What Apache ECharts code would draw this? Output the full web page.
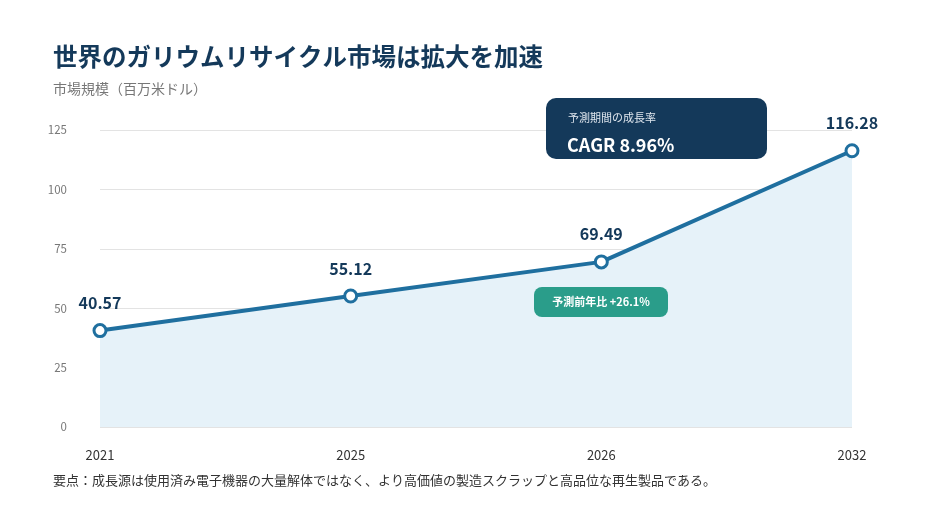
<!DOCTYPE html><html><head><meta charset="utf-8"><script src="https://cdn.jsdelivr.net/npm/echarts@6/dist/echarts.min.js"></script>
<style>body{margin:0;background:#fff}#c{width:940px;height:529px}</style></head><body><div id="c"></div><script>
const years=["2021","2025","2026","2032"];
const values=[40.57,55.12,69.49,116.28];
const F='"Noto Sans CJK JP","Noto Sans",sans-serif';
const chart=echarts.init(document.getElementById('c'));
chart.setOption({
 animation:false,
 title:[{text:'世界のガリウムリサイクル市場は拡大を加速',left:48,top:39,textStyle:{fontFamily:F,fontSize:24.5,fontWeight:'bold',color:'#14395a'}},
  {text:'市場規模（百万米ドル）',left:48,top:77,textStyle:{fontFamily:F,fontSize:14,fontWeight:'normal',color:'#777'}},
  {text:'要点：成長源は使用済み電子機器の大量解体ではなく、より高価値の製造スクラップと高品位な再生製品である。',left:48,top:469,textStyle:{fontFamily:F,fontSize:13,fontWeight:'normal',color:'#333'}}],
 grid:{left:100,right:88,top:130,bottom:102},
 xAxis:{type:'category',data:years,boundaryGap:false,axisLine:{show:false},axisTick:{show:false},
  axisLabel:{fontFamily:F,fontSize:13,color:'#333',margin:22}},
 yAxis:{type:'value',min:0,max:125,interval:25,axisLabel:{fontFamily:F,fontSize:11.5,color:'#777',margin:33},
  splitLine:{lineStyle:{color:'#e3e3e3'}}},
 series:[{type:'line',data:values,symbol:'circle',symbolSize:12,
  lineStyle:{color:'#1f6f9f',width:4},itemStyle:{color:'#fff',borderColor:'#1f6f9f',borderWidth:3},
  areaStyle:{color:'#e6f2f9',opacity:1},
  label:{show:true,position:'top',distance:12,formatter:p=>p.value.toFixed(2),fontFamily:F,fontSize:16,fontWeight:'bold',color:'#14395a'}}],
 graphic:{elements:[
  {type:'rect',z:100,shape:{x:546,y:98,width:221,height:61,r:10},style:{fill:'#14395a'}},
  {type:'text',z:101,x:568,y:112,style:{text:'予測期間の成長率',fontFamily:F,fontSize:11,fill:'#dfe6ee'}},
  {type:'text',z:101,x:567,y:136,style:{text:'CAGR 8.96%',fontFamily:F,fontSize:18,fontWeight:'bold',fill:'#fff'}},
  {type:'rect',z:100,shape:{x:534,y:287,width:134,height:30,r:8},style:{fill:'#2a9d8a'}},
  {type:'text',z:101,x:601,y:302,style:{text:'予測前年比 +26.1%',align:'center',verticalAlign:'middle',fontFamily:F,fontSize:11,fontWeight:'bold',fill:'#fff'}}
 ]}
});
</script></body></html>
